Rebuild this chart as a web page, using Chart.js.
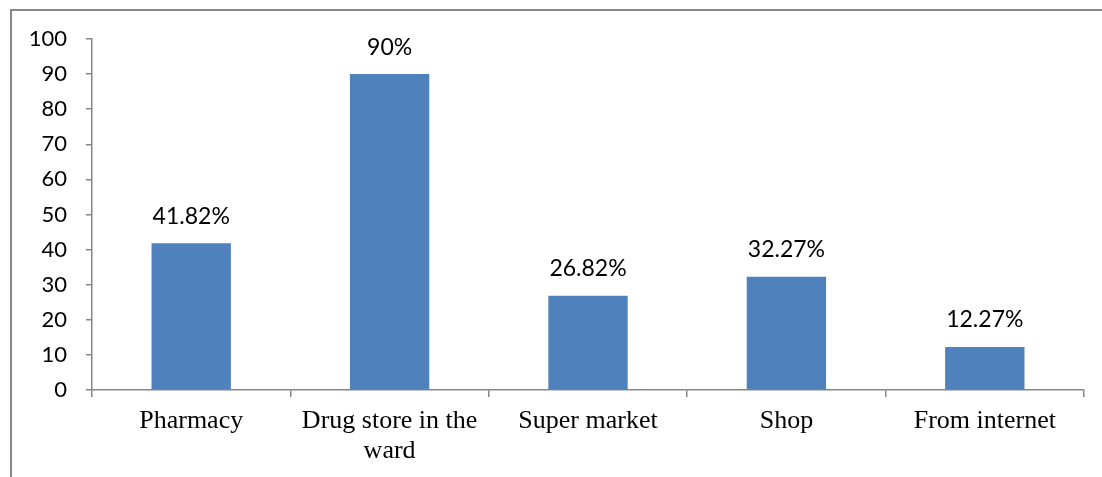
<!DOCTYPE html>
<html><head><meta charset="utf-8">
<script src="https://cdn.jsdelivr.net/npm/chart.js@4"></script>
<style>html,body{margin:0;padding:0;background:#fff;}#wrap{width:1102px;height:477px;position:relative;}</style>
</head><body><div id="wrap"><canvas id="c" width="1102" height="477"></canvas></div>
<script>
const categories = [["Pharmacy"], ["Drug store in the", "ward"], ["Super market"], ["Shop"], ["From internet"]];
const values = [41.82, 90, 26.82, 32.27, 12.27];
const valueLabels = ["41.82%", "90%", "26.82%", "32.27%", "12.27%"];
const yTicks = [0, 10, 20, 30, 40, 50, 60, 70, 80, 90, 100];

const frame = {
  id: 'frame',
  beforeDraw(chart) {
    const ctx = chart.ctx;
    ctx.save();
    ctx.strokeStyle = '#878787';
    ctx.lineWidth = 2;
    ctx.beginPath();
    ctx.moveTo(11, 477);
    ctx.lineTo(11, 10);
    ctx.lineTo(1102, 10);
    ctx.stroke();
    ctx.restore();
  }
};
const labelsPlugin = {
  id: 'vlabels',
  afterDatasetsDraw(chart) {
    const ctx = chart.ctx;
    const meta = chart.getDatasetMeta(0);
    ctx.save();
    ctx.fillStyle = '#000';
    ctx.font = '23px Lato, "Open Sans", sans-serif';
    ctx.textAlign = 'center';
    ctx.textBaseline = 'middle';
    meta.data.forEach((bar, i) => {
      ctx.fillText(valueLabels[i], bar.x, bar.y - 27);
    });
    ctx.restore();
  }
};

new Chart(document.getElementById('c'), {
  type: 'bar',
  data: {
    labels: categories,
    datasets: [{
      data: values,
      backgroundColor: '#4F81BD',
      borderWidth: 0,
      barPercentage: 0.4,
      categoryPercentage: 1.0
    }]
  },
  options: {
    responsive: false,
    animation: false,
    devicePixelRatio: 1,
    layout: { padding: { left: 0, right: 18, top: 39, bottom: 0 } },
    plugins: { legend: { display: false }, tooltip: { enabled: false } },
    scales: {
      x: {
        offset: true,
        grid: { display: true, drawOnChartArea: false, offset: true, tickLength: 7, color: '#868686', lineWidth: 1.5 },
        border: { display: true, color: '#868686', width: 1.5 },
        ticks: { color: '#000', font: { family: '"Liberation Serif", "Times New Roman", serif', size: 26, lineHeight: 1.15 }, padding: 9, maxRotation: 0, autoSkip: false },
        afterFit(s) { s.height = 87; }
      },
      y: {
        min: 0, max: 100,
        afterBuildTicks(s) { s.ticks = yTicks.map(v => ({ value: v })); },
        grid: { display: true, drawOnChartArea: false, tickLength: 6, color: '#868686', lineWidth: 1.5 },
        border: { display: true, color: '#868686', width: 1.5 },
        ticks: { color: '#000', font: { family: 'Lato, "Open Sans", sans-serif', size: 22 }, padding: 19 },
        afterFit(s) { s.width = 92; }
      }
    }
  },
  plugins: [frame, labelsPlugin]
});
</script></body></html>
